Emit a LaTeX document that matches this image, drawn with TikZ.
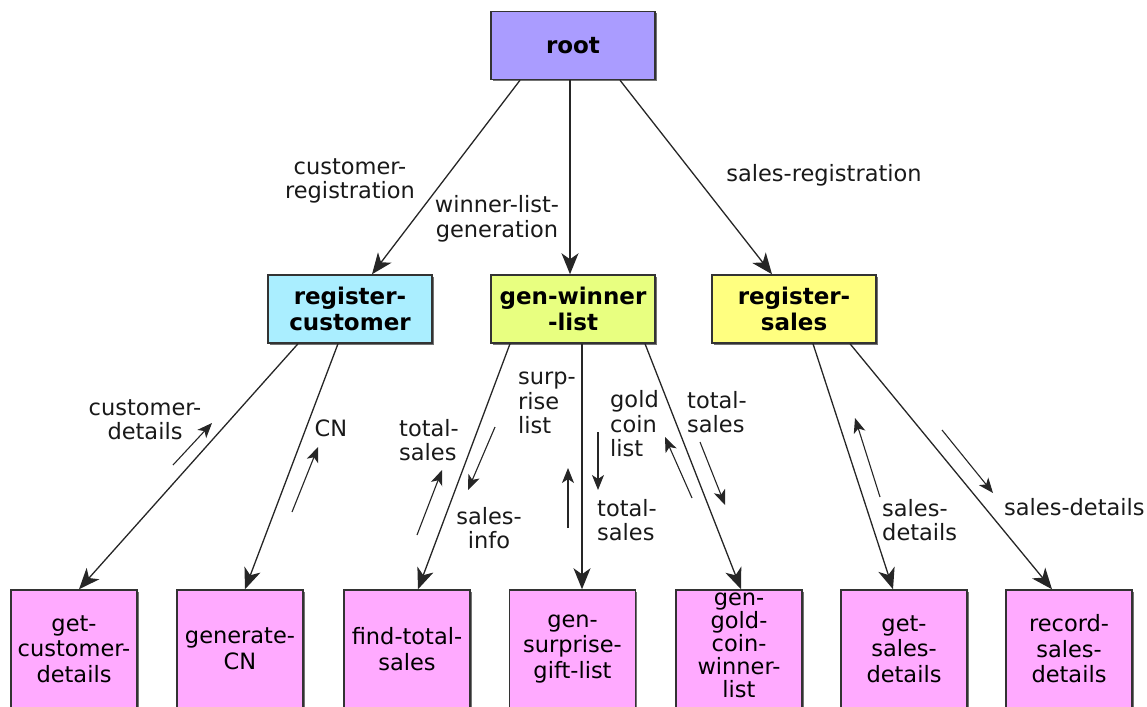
\documentclass[tikz,border=0pt]{standalone}
\usepackage{fontspec}
\setmainfont{DejaVu Sans}
\usetikzlibrary{arrows.meta,shadows}
\definecolor{rootc}{RGB}{170,156,255}
\definecolor{custc}{RGB}{170,238,255}
\definecolor{winc}{RGB}{232,255,128}
\definecolor{salec}{RGB}{255,255,128}
\definecolor{leafc}{RGB}{255,170,255}
\begin{document}
\begin{tikzpicture}[x=1pt,y=-1pt,
 box/.style={draw=black!80,line width=1.5pt,inner sep=0pt,align=center,
   drop shadow={shadow xshift=1.5pt,shadow yshift=-1.5pt,fill=black!55,opacity=1}},
 topbox/.style={box,minimum width=164pt,minimum height=68pt,font=\bfseries\fontsize{23}{26}\selectfont},
 leaf/.style={box,fill=leafc,minimum width=126pt,minimum height=118pt,font=\fontsize{22.5}{25.5}\selectfont},
 edge/.style={draw=black!85,line width=1.3pt,-{Stealth[length=21pt,width=17pt,inset=6pt]}},
 flow/.style={draw=black!85,line width=1.1pt,-{Stealth[length=15pt,width=12pt,inset=4pt]}},
 lbl/.style={inner sep=0pt,font=\fontsize{22.5}{24.5}\selectfont,text=black!90},
]
\useasboundingbox (0,0) rectangle (1147,706);
\clip (0,0) rectangle (1147,706);

% boxes
\node[topbox,fill=rootc] (root) at (573,45.5) {root};
\node[topbox,fill=custc] (rc) at (350,309) {register-\\customer};
\node[topbox,fill=winc] (gwl) at (573,309) {gen-winner\\-list};
\node[topbox,fill=salec] (rs) at (794,309) {register-\\sales};

\node[leaf] (gcd) at (74,649) {get-\\customer-\\details};
\node[leaf] (gcn) at (240,649) {generate-\\CN};
\node[leaf] (fts) at (407,649) {find-total-\\sales};
\node[leaf] (gsg) at (572.5,649) {gen-\\surprise-\\gift-list};
\node[leaf] (ggc) at (739,649) {};
\node[inner sep=0pt,align=center,font=\fontsize{22.5}{23}\selectfont] (ggct) at (739,645) {gen-\\gold-\\coin-\\winner-\\list};
\node[leaf] (gsd) at (904,649) {get-\\sales-\\details};
\node[leaf] (rsd) at (1069,649) {record-\\sales-\\details};

% main connectors
\draw[edge] ([xshift=-53pt]root.south) -- ([xshift=22pt]rc.north);
\draw[edge] ([xshift=-3pt]root.south) -- ([xshift=-3pt]gwl.north);
\draw[edge] ([xshift=47pt]root.south) -- ([xshift=-22pt]rs.north);

\draw[edge] ([xshift=-52pt]rc.south) -- ([xshift=5pt]gcd.north);
\draw[edge] ([xshift=-12pt]rc.south) -- ([xshift=5pt]gcn.north);
\draw[edge] ([xshift=-63pt]gwl.south) -- ([xshift=11pt]fts.north);
\draw[edge] ([xshift=9pt]gwl.south) -- ([xshift=9.5pt]gsg.north);
\draw[edge] ([xshift=72pt]gwl.south) -- ([xshift=2pt]ggc.north);
\draw[edge] ([xshift=19pt]rs.south) -- ([xshift=-11pt]gsd.north);
\draw[edge] ([xshift=56pt]rs.south) -- ([xshift=-17pt]rsd.north);

% edge labels
\node[lbl,align=center] (lcr) at (350,181) {customer-\\registration};
\node[lbl,align=center] (lwl) at (497,219) {winner-list-\\generation};
\node[lbl] (lsr) at (824,175) {sales-registration};
\node[lbl,align=center] (lcd) at (145,420) {customer-\\details};
\node[lbl] (lcn) at (331,428) {CN};
\node[lbl,align=left] (lts1) at (429,440) {total-\\sales};
\node[lbl,align=center] (lsi) at (489,528) {sales-\\info};
\node[lbl,align=left,anchor=west] (lsl) at (518,403) {surp-\\rise\\list};
\node[lbl,align=left,anchor=west] (lgc) at (610,424) {gold\\coin\\list};
\node[lbl,align=left,anchor=west] (lts2) at (597,520) {total-\\sales};
\node[lbl,align=left,anchor=west] (lts3) at (687,412) {total-\\sales};
\node[lbl,align=left,anchor=west] (lsd1) at (882,520) {sales-\\details};
\node[lbl,anchor=west] (lsd2) at (1004,507) {sales-details};

% data-flow arrows
\coordinate (a1s) at (173,465); \coordinate (a1e) at (212,423);
\coordinate (a2s) at (292,512); \coordinate (a2e) at (318,447);
\coordinate (a3s) at (417,535); \coordinate (a3e) at (442,470);
\coordinate (a4s) at (495,427); \coordinate (a4e) at (468,490);
\coordinate (a5s) at (568,528); \coordinate (a5e) at (568,468);
\coordinate (a6s) at (598,432); \coordinate (a6e) at (598,490);
\coordinate (a7s) at (692,498); \coordinate (a7e) at (665,437);
\coordinate (a8s) at (700,442); \coordinate (a8e) at (725,505);
\coordinate (a9s) at (880,497); \coordinate (a9e) at (855,418);
\coordinate (a10s) at (942,430); \coordinate (a10e) at (993,493);
\draw[flow] (a1s) -- (a1e);
\draw[flow] (a2s) -- (a2e);
\draw[flow] (a3s) -- (a3e);
\draw[flow] (a4s) -- (a4e);
\draw[flow] (a5s) -- (a5e);
\draw[flow] (a6s) -- (a6e);
\draw[flow] (a7s) -- (a7e);
\draw[flow] (a8s) -- (a8e);
\draw[flow] (a9s) -- (a9e);
\draw[flow] (a10s) -- (a10e);
\end{tikzpicture}
\end{document}
